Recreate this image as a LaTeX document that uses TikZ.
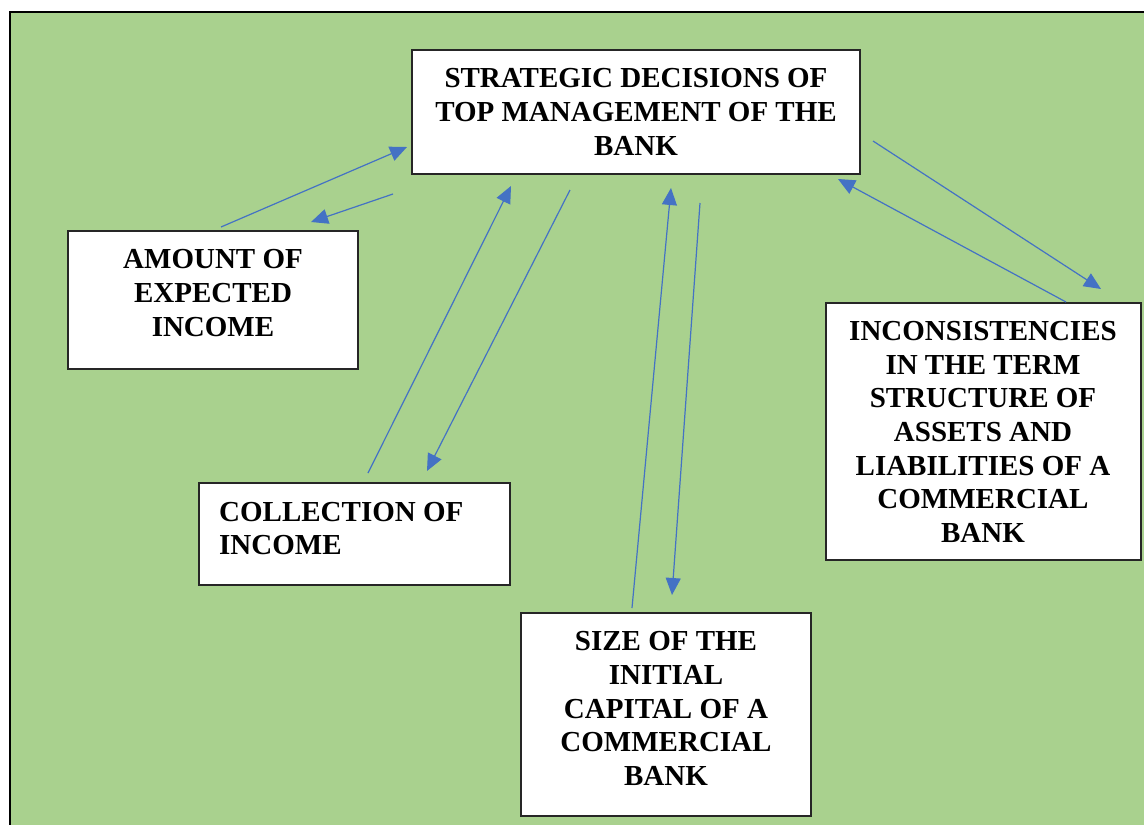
\documentclass[tikz,border=0pt]{standalone}
\usepackage{fontspec}
\setmainfont{Liberation Serif}
\usetikzlibrary{arrows.meta}
\definecolor{bggreen}{HTML}{A9D18E}
\definecolor{arrblue}{HTML}{4472C4}
\begin{document}
\begin{tikzpicture}[x=1pt,y=-1pt,
  box/.style={draw=black!85, line width=1.4pt, fill=white, rectangle, inner sep=0pt},
  txt/.style={inner sep=0pt, align=center, font=\fontsize{29}{33.7}\selectfont\bfseries},
  conn/.style={draw=arrblue, line width=1.2pt, -{Triangle[length=17pt,width=15pt]}}]
\useasboundingbox (0,0) rectangle (1144,825);
\fill[bggreen] (10,12) rectangle (1144,825);
\draw[line width=2.6pt, black] (10,825) -- (10,12) -- (1144,12);

% boxes
\node[box, minimum width=448pt, minimum height=124pt] (top) at (636,112) {};
\node[txt] (topT) at (636,112) {STRATEGIC DECISIONS OF\\TOP MANAGEMENT OF THE\\BANK};

\node[box, minimum width=290pt, minimum height=138pt] (amount) at (213,300) {};
\node[txt] (amountT) at (213,293) {AMOUNT OF\\EXPECTED\\INCOME};

\node[box, minimum width=311pt, minimum height=102pt] (coll) at (354.5,534) {};
\node[txt, align=left, anchor=west] (collT) at (219,528.5) {COLLECTION OF\\INCOME};

\node[box, minimum width=290pt, minimum height=203pt] (size) at (666,714.5) {};
\node[txt] (sizeT) at (666,708.5) {SIZE OF THE\\INITIAL\\CAPITAL OF A\\COMMERCIAL\\BANK};

\node[box, minimum width=315pt, minimum height=257pt] (incons) at (983.5,431.5) {};
\node[txt] (inconsT) at (983,432) {INCONSISTENCIES\\IN THE TERM\\STRUCTURE OF\\ASSETS AND\\LIABILITIES OF A\\COMMERCIAL\\BANK};

% connector end points
\coordinate (a1s) at (221,227);  \coordinate (a1e) at (407,147);
\coordinate (a2s) at (393,194);  \coordinate (a2e) at (311,222);
\coordinate (a3s) at (368,473);  \coordinate (a3e) at (511,186);
\coordinate (a4s) at (570,190);  \coordinate (a4e) at (427,471);
\coordinate (a5s) at (632,608);  \coordinate (a5e) at (671,188);
\coordinate (a6s) at (700,203);  \coordinate (a6e) at (672,595);
\coordinate (a7s) at (873,141);  \coordinate (a7e) at (1101,289);
\coordinate (a8s) at (1066,302); \coordinate (a8e) at (838,179);

\draw[conn] (a1s) -- (a1e);
\draw[conn] (a2s) -- (a2e);
\draw[conn] (a3s) -- (a3e);
\draw[conn] (a4s) -- (a4e);
\draw[conn] (a5s) -- (a5e);
\draw[conn] (a6s) -- (a6e);
\draw[conn] (a7s) -- (a7e);
\draw[conn] (a8s) -- (a8e);
\end{tikzpicture}
\end{document}
